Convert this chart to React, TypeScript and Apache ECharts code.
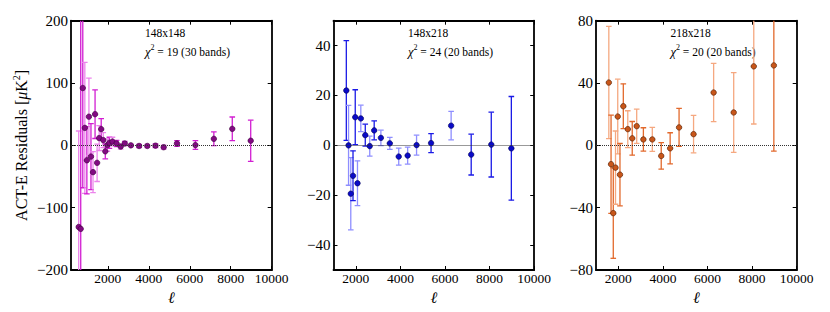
import React, { useEffect, useRef } from "react";
import * as echarts from "echarts";

// ---- data ----
const ELL_30 = [575, 675, 775, 875, 975, 1075, 1175, 1275, 1375, 1475, 1575, 1675, 1775, 1875, 1975, 2075, 2225, 2425, 2625, 2825, 3125, 3525, 3925, 4325, 4725, 5375, 6275, 7175, 8075, 8975];
const ELL_20 = [1575, 1675, 1775, 1875, 1975, 2075, 2225, 2425, 2625, 2825, 3125, 3525, 3925, 4325, 4725, 5375, 6275, 7175, 8075, 8975];

const RES_148x148 = [-131, -134, 92, 28, -24, 46, -18, -43, 50, -28, 11.7, 26, 8.5, -9.6, 0.5, 4, 6, 3, -2, 3, 0, -1, -1, -0.5, -3, 3, 0.5, 10.5, 26.5, 7.4];
const ERR_148x148 = [154, 340, 160, 105, 54, 62, 53, 33, 39, 30, 20, 17, 12, 12, 10, 9, 7, 5, 4, 3.5, 2.5, 2.5, 2.5, 3, 3.5, 4.5, 7, 11, 19, 33];
const SHADE_148x148 = [0, 1, 1, 0, 1, 0, 1, 0, 1, 0, 0, 1, 0, 1, 0, 1, 0, 1, 0, 1, 0, 1, 0, 1, 0, 1, 1, 1, 1, 1];

const RES_148x218 = [22, 0, -19.4, -12.2, 11.3, -15.2, 10.8, 4.1, -0.3, 6, 3, 0.8, -4.5, -4.1, 0.1, 0.9, 7.9, -3.7, 0.3, -1.2];
const ERR_148x218 = [20, 16, 14.5, 10, 11, 9, 5.3, 4.4, 4, 3.8, 3.1, 2.4, 3.4, 3.4, 4, 3.8, 5.7, 8.2, 13, 20.8];
const SHADE_148x218 = [1, 0, 0, 1, 1, 0, 0, 1, 0, 1, 0, 0, 0, 0, 0, 1, 0, 1, 1, 1];

const RES_218x218 = [40.3, -12.1, -43.5, -14.3, 18.5, -18.8, 25.1, 10.4, 4.5, 12.3, 3.8, 3.8, -6.8, -1.9, 11.5, 7.2, 33.9, 21.1, 50.7, 51.3];
const ERR_218x218 = [36, 31.5, 29, 23.5, 24, 20, 14.4, 11.8, 10.8, 11, 7.5, 7.7, 8.5, 10, 12.2, 12, 18.7, 25.6, 37, 55];
const SHADE_218x218 = [0, 1, 1, 0, 0, 1, 1, 0, 1, 0, 1, 0, 1, 1, 1, 0, 0, 0, 0, 1];

const X_TICKS = [2000, 4000, 6000, 8000, 10000];
const Y_TICKS_148x148 = [-200, -100, 0, 100, 200];
const Y_TICKS_148x218 = [-40, -20, 0, 20, 40];
const Y_TICKS_218x218 = [-80, -40, 0, 40, 80];

const LABELS = ["148x148", "148x218", "218x218"];
const CHI2 = ["19", "24", "20"];
const BANDS = ["30", "20", "20"];

// ---- layout / style ----
const FONT = "'Liberation Serif', 'Times New Roman', serif";
const panels = [
  { ell: ELL_30, res: RES_148x148, err: ERR_148x148, shade: SHADE_148x148, yTicks: Y_TICKS_148x148, xMin: 200, yMin: -200, yMax: 200, left: 71, textX: 145, dark: "#d21ed2", light: "#ec84ec", fill: "#820a82", edge: "#3a003a" },
  { ell: ELL_20, res: RES_148x218, err: ERR_148x218, shade: SHADE_148x218, yTicks: Y_TICKS_148x218, xMin: 1000, yMin: -50, yMax: 50, left: 333.5, textX: 408, dark: "#1a1ae6", light: "#8e8eff", fill: "#0a0ac8", edge: "#000050" },
  { ell: ELL_20, res: RES_218x218, err: ERR_218x218, shade: SHADE_218x218, yTicks: Y_TICKS_218x218, xMin: 1000, yMin: -80, yMax: 80, left: 596, textX: 670.5, dark: "#e2692c", light: "#f5a880", fill: "#c8561a", edge: "#4a1a00" },
];
const GRID_TOP = 20.7;
const GRID_H = 249.3;
const GRID_W = 200.7;

const minus = (v: number) => (v < 0 ? "\u2212" + Math.abs(v) : String(v));

export default function App() {
  const ref = useRef<HTMLDivElement>(null);
  useEffect(() => {
    if (!ref.current) return;
    const chart = echarts.init(ref.current, null, { renderer: "svg" });
    const grid: any[] = [];
    const xAxis: any[] = [];
    const yAxis: any[] = [];
    const series: any[] = [];
    const graphic: any[] = [];
    const frame = { show: true, onZero: false, lineStyle: { color: "#000", width: 1.8 } };
    panels.forEach((p, i) => {
      grid.push({ left: p.left, top: GRID_TOP, width: GRID_W, height: GRID_H, containLabel: false });
      const xBase = {
        type: "value", gridIndex: i, min: p.xMin, max: 10000, splitLine: { show: false },
        axisLine: frame,
        axisTick: { show: true, inside: true, length: 4, customValues: X_TICKS, lineStyle: { color: "#000", width: 1 } },
      };
      xAxis.push({
        ...xBase, position: "bottom",
        axisLabel: { customValues: X_TICKS, fontFamily: FONT, fontSize: 13.5, color: "#000", margin: 1, formatter: (v: number) => String(v) },
        name: "\u2113", nameLocation: "middle", nameGap: 13,
        nameTextStyle: { fontFamily: FONT, fontStyle: "italic", fontSize: 16, color: "#000" },
      });
      xAxis.push({ ...xBase, position: "top", axisLabel: { show: false } });
      const yBase = {
        type: "value", gridIndex: i, min: p.yMin, max: p.yMax, splitLine: { show: false },
        axisLine: frame,
        axisTick: { show: true, inside: true, length: 4, customValues: p.yTicks, lineStyle: { color: "#000", width: 1 } },
      };
      yAxis.push({
        ...yBase, position: "left",
        axisLabel: { customValues: p.yTicks, fontFamily: FONT, fontSize: 15, color: "#000", margin: 3, formatter: (v: number) => minus(v) },
        ...(i === 0
          ? {
              name: "ACT-E Residuals [{it|\u03bc}K{sup|2}]",
              nameLocation: "middle",
              nameGap: 40,
              nameTextStyle: {
                fontFamily: FONT, fontSize: 16, color: "#000",
                rich: {
                  it: { fontFamily: FONT, fontSize: 16, fontStyle: "italic", color: "#000" },
                  sup: { fontFamily: FONT, fontSize: 10, color: "#000", verticalAlign: "top", lineHeight: 20 },
                },
              },
            }
          : {}),
      });
      yAxis.push({ ...yBase, position: "right", axisLabel: { show: false } });

      const dark = p.dark, light = p.light;
      series.push({
        type: "custom",
        xAxisIndex: 2 * i,
        yAxisIndex: 2 * i,
        clip: true,
        z: 2,
        data: p.ell.map((l, k) => [l, p.res[k], p.err[k], p.shade[k]]),
        encode: { x: 0, y: 1 },
        renderItem: (params: any, api: any) => {
          const x = api.value(0), y = api.value(1), e = api.value(2), s = api.value(3);
          const top = api.coord([x, y + e]);
          const bot = api.coord([x, y - e]);
          const c = s ? dark : light;
          const st = { stroke: c, lineWidth: 1.3 };
          const cw = 2.8;
          return {
            type: "group",
            children: [
              { type: "line", shape: { x1: top[0], y1: top[1], x2: bot[0], y2: bot[1] }, style: st },
              { type: "line", shape: { x1: top[0] - cw, y1: top[1], x2: top[0] + cw, y2: top[1] }, style: st },
              { type: "line", shape: { x1: bot[0] - cw, y1: bot[1], x2: bot[0] + cw, y2: bot[1] }, style: st },
            ],
          };
        },
      });
      series.push({
        type: "scatter",
        xAxisIndex: 2 * i,
        yAxisIndex: 2 * i,
        z: 3,
        symbol: "circle",
        symbolSize: 5.5,
        itemStyle: { color: p.fill, borderColor: p.edge, borderWidth: 0.6, opacity: 1 },
        data: p.ell.map((l, k) => [l, p.res[k]]),
        markLine: {
          silent: true, symbol: "none", label: { show: false }, animation: false,
          lineStyle: { type: "dotted", color: "#333", width: 1 },
          data: [{ yAxis: 0 }],
        },
      });
      graphic.push({
        type: "text", x: p.textX, y: 33,
        style: { text: LABELS[i], fontFamily: FONT, fontSize: 11.5, fill: "#000", verticalAlign: "middle" },
      });
      graphic.push({
        type: "text", x: p.textX, y: 52,
        style: {
          text: `{c|\u03c7}{s|2}{n| = ${CHI2[i]} (${BANDS[i]} bands)}`,
          verticalAlign: "middle",
          rich: {
            c: { fontFamily: FONT, fontSize: 12.5, fontStyle: "italic", fill: "#000", lineHeight: 18, verticalAlign: "middle" },
            s: { fontFamily: FONT, fontSize: 8, fill: "#000", verticalAlign: "top", lineHeight: 8 },
            n: { fontFamily: FONT, fontSize: 11.5, fill: "#000", lineHeight: 18, verticalAlign: "middle" },
          },
        },
      });
    });
    chart.setOption({
      animation: false,
      backgroundColor: "#fff",
      grid, xAxis, yAxis, series, graphic,
    });
    return () => chart.dispose();
  }, []);
  return <div ref={ref} style={{ position: "fixed", left: 0, top: 0, width: 830, height: 312 }} />;
}
